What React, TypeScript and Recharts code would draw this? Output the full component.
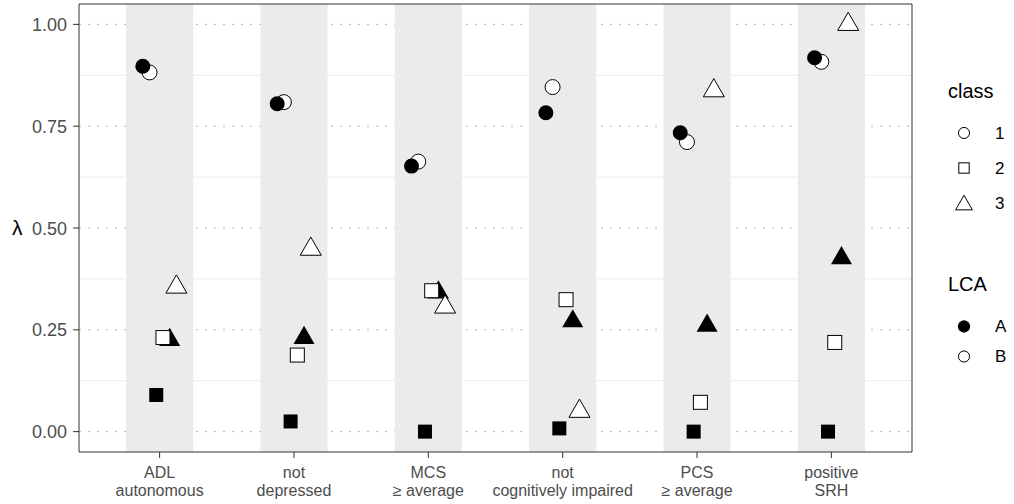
import React from "react";
import {
  ScatterChart,
  Scatter,
  XAxis,
  YAxis,
  CartesianGrid,
  ReferenceArea,
} from "recharts";

// category labels (two lines each)
const categories: [string, string][] = [
  ["ADL", "autonomous"],
  ["not", "depressed"],
  ["MCS", "\u2265 average"],
  ["not", "cognitively impaired"],
  ["PCS", "\u2265 average"],
  ["positive", "SRH"],
];

// lambda per category, one list per LCA x class
const lcaA_class1 = [0.897, 0.805, 0.652, 0.783, 0.734, 0.918];
const lcaB_class1 = [0.882, 0.809, 0.663, 0.846, 0.711, 0.908];
const lcaA_class2 = [0.09, 0.025, 0.0, 0.008, 0.0, 0.0];
const lcaB_class2 = [0.231, 0.188, 0.346, 0.324, 0.072, 0.219];
const lcaA_class3 = [0.225, 0.23, 0.342, 0.271, 0.26, 0.426];
const lcaB_class3 = [0.355, 0.448, 0.306, 0.05, 0.837, 1.0];

const majorTicks = [0, 0.25, 0.5, 0.75, 1];
const minorTicks = [0.125, 0.375, 0.625, 0.875];
const classLabels = ["1", "2", "3"];
const lcaLabels = ["A", "B"];

const FONT = "'Liberation Sans', Arial, sans-serif";
const DODGE = 0.3;
const Y_DOMAIN: [number, number] = [-0.05, 1.05];
const X_DOMAIN: [number, number] = [0.4, 6.6];

type Kind = "circle" | "square" | "triangle";
const KINDS: Kind[] = ["circle", "square", "triangle"];

const groups = [
  { lca: "A", cls: 0, values: lcaA_class1 },
  { lca: "B", cls: 0, values: lcaB_class1 },
  { lca: "A", cls: 1, values: lcaA_class2 },
  { lca: "B", cls: 1, values: lcaB_class2 },
  { lca: "A", cls: 2, values: lcaA_class3 },
  { lca: "B", cls: 2, values: lcaB_class3 },
];
// drawing order (later = on top)
const drawOrder = [4, 1, 0, 2, 3, 5];

function dodged(g: number) {
  const off = ((g + 0.5) / groups.length - 0.5) * DODGE;
  return groups[g].values.map((v, i) => ({ x: i + 1 + off, y: v }));
}

function Marker({ cx, cy, kind, filled, s = 1 }: any) {
  const fill = filled ? "#000" : "#fff";
  const stroke = filled ? "none" : "#000";
  if (kind === "circle") {
    return <circle cx={cx} cy={cy} r={7.5 * s} fill={fill} stroke={stroke} strokeWidth={1} />;
  }
  if (kind === "square") {
    const h = 7 * s;
    return (
      <rect x={cx - h} y={cy - h} width={2 * h} height={2 * h} fill={fill} stroke={stroke} strokeWidth={1} />
    );
  }
  const k = 7.8 * s;
  const pts = `${cx},${cy - 1.555 * k} ${cx + 1.347 * k},${cy + 0.778 * k} ${cx - 1.347 * k},${cy + 0.778 * k}`;
  return <polygon points={pts} fill={fill} stroke={stroke} strokeWidth={1} strokeLinejoin="miter" />;
}

const CatTick = ({ x, y, payload }: any) => {
  const lines = categories[Math.round(payload.value) - 1];
  if (!lines) return null;
  return (
    <text x={x} y={y} textAnchor="middle" fill="#4d4d4d" style={{ fontSize: 16 }}>
      <tspan x={x} dy={18}>{lines[0]}</tspan>
      <tspan x={x} dy={18.4}>{lines[1]}</tspan>
    </text>
  );
};

const ValueTick = ({ x, y, payload }: any) => (
  <text x={x} y={y} dy={6.5} textAnchor="end" fill="#4d4d4d" style={{ fontSize: 18 }}>
    {Number(payload.value).toFixed(2)}
  </text>
);

const LambdaLabel = ({ viewBox }: any) => {
  const vb = viewBox || { x: 0, y: 4, width: 79, height: 448 };
  return (
    <text x={vb.x + 12} y={vb.y + vb.height / 2} dy={7} fill="#000" style={{ fontSize: 21 }}>
      {"\u03bb"}
    </text>
  );
};

function LegendBox() {
  return (
    <svg
      width={1014}
      height={504}
      style={{ position: "absolute", left: 0, top: 0, pointerEvents: "none", fontFamily: FONT }}
    >
      <text x={948} y={98} fontSize={20} fill="#000">class</text>
      {classLabels.map((lab, i) => {
        const cy = 133 + i * 35;
        return (
          <g key={lab}>
            <Marker cx={964} cy={i === 2 ? cy + 2 : cy} kind={KINDS[i]} filled={false} s={i === 2 ? 0.8 : 0.74} />
            <text x={995} y={cy} dy="0.35em" fontSize={17} fill="#000">{lab}</text>
          </g>
        );
      })}
      <text x={948} y={291} fontSize={20} fill="#000">LCA</text>
      {lcaLabels.map((lab, i) => {
        const cy = 326.5 + i * 30;
        return (
          <g key={lab}>
            <Marker cx={964} cy={cy} kind="circle" filled={lab === "A"} s={lab === "A" ? 0.82 : 0.74} />
            <text x={995} y={cy} dy="0.35em" fontSize={17} fill="#000">{lab}</text>
          </g>
        );
      })}
    </svg>
  );
}

export default function App() {
  return (
    <div style={{ position: "absolute", left: 0, top: 0, width: 1014, height: 504, background: "#fff", fontFamily: FONT }}>
      <ScatterChart width={1014} height={504} margin={{ top: 4, right: 102, bottom: 0, left: 0 }}>
        <CartesianGrid horizontalValues={minorTicks} vertical={false} stroke="#ebebeb" strokeWidth={1} />
        <CartesianGrid horizontalValues={majorTicks} vertical={false} stroke="#b3b3b3" strokeDasharray="2 7" />
        <XAxis
          type="number"
          dataKey="x"
          domain={X_DOMAIN}
          ticks={[1, 2, 3, 4, 5, 6]}
          interval={0}
          allowDataOverflow
          height={52}
          tick={<CatTick />}
          tickSize={6}
          tickLine={{ stroke: "#333" }}
          axisLine={false}
        />
        <YAxis
          type="number"
          dataKey="y"
          domain={Y_DOMAIN}
          ticks={majorTicks}
          interval={0}
          allowDataOverflow
          width={79}
          tick={<ValueTick />}
          tickSize={6}
          tickMargin={6}
          tickLine={{ stroke: "#333" }}
          axisLine={false}
          label={<LambdaLabel />}
        />
        {categories.map((c, i) => (
          <ReferenceArea
            key={c.join(" ")}
            x1={i + 1 - 0.25}
            x2={i + 1 + 0.25}
            y1={Y_DOMAIN[0]}
            y2={Y_DOMAIN[1]}
            fill="#ebebeb"
            fillOpacity={1}
            stroke="none"
          />
        ))}
        <ReferenceArea
          x1={X_DOMAIN[0]}
          x2={X_DOMAIN[1]}
          y1={Y_DOMAIN[0]}
          y2={Y_DOMAIN[1]}
          fill="none"
          stroke="#333"
          strokeWidth={1}
        />
        {drawOrder.map((g) => (
          <Scatter
            key={g}
            data={dodged(g)}
            isAnimationActive={false}
            shape={(p: any) => (
              <Marker cx={p.cx} cy={p.cy} kind={KINDS[groups[g].cls]} filled={groups[g].lca === "A"} />
            )}
          />
        ))}
      </ScatterChart>
      <LegendBox />
    </div>
  );
}
